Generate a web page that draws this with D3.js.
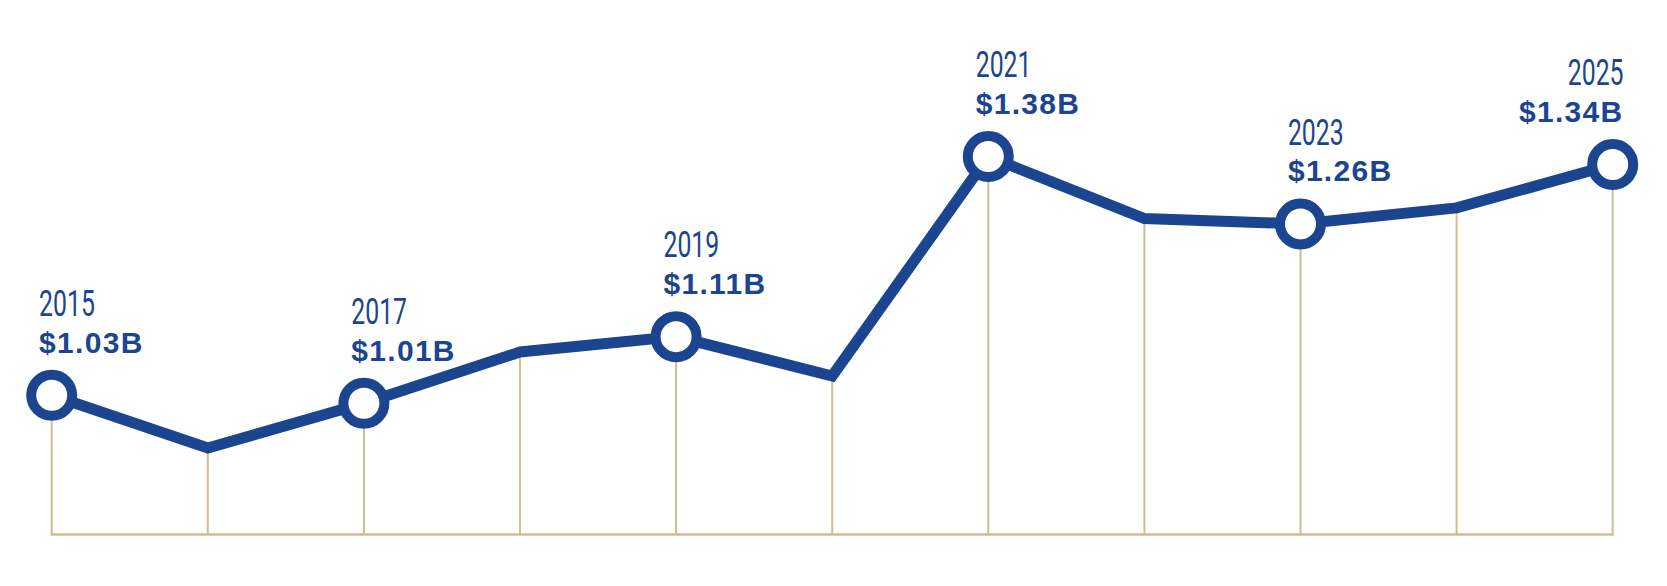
<!DOCTYPE html>
<html>
<head>
<meta charset="utf-8">
<script src="https://cdn.jsdelivr.net/npm/d3@7"></script>
<style>
    html, body { margin: 0; padding: 0; background: #fff; }
    #container { width: 1667px; height: 586px; }
</style>
</head>
<body>
<div id="container"></div>
<script>

// values (billions), labels as printed
const years = [2015, 2016, 2017, 2018, 2019, 2020, 2021, 2022, 2023, 2024, 2025];
const values = [1.022, 0.943, 1.01, 1.087, 1.11, 1.051, 1.38, 1.287, 1.279, 1.303, 1.368];
const labels = ['$1.03B', null, '$1.01B', null, '$1.11B', null, '$1.38B', null, '$1.26B', null, '$1.34B'];

const width = 1667;
const height = 586;

const blue = '#1c4590';
const gold = '#d4bd8c';

const svg = d3.select('#container').append('svg')
    .attr('width', width)
    .attr('height', height);

const x = d3.scalePoint().domain(years).range([51.7, 1612.7]);
const y = d3.scaleLinear().domain([0.8, 1.4]).range([543.4, 143.2]);
const baseY = 534.5;

const points = years.map((yr, i) => ({ year: yr, value: values[i], label: labels[i], last: i === years.length - 1 }));

// gold drop lines
svg.append('g')
    .selectAll('line')
    .data(points)
    .join('line')
    .attr('x1', d => x(d.year))
    .attr('x2', d => x(d.year))
    .attr('y1', baseY)
    .attr('y2', d => y(d.value))
    .attr('stroke', gold)
    .attr('stroke-width', 2);

svg.append('line')
    .attr('x1', x.range()[0] - 1)
    .attr('x2', x.range()[1] + 1)
    .attr('y1', baseY)
    .attr('y2', baseY)
    .attr('stroke', gold)
    .attr('stroke-width', 2.5);

const line = d3.line()
    .x(d => x(d.year))
    .y(d => y(d.value));

svg.append('path')
    .datum(points)
    .attr('d', line)
    .attr('fill', 'none')
    .attr('stroke', blue)
    .attr('stroke-width', 11)
    .attr('stroke-linejoin', 'miter');

const labelled = points.filter(d => d.label);

svg.append('g')
    .selectAll('circle')
    .data(labelled)
    .join('circle')
    .attr('cx', d => x(d.year))
    .attr('cy', d => y(d.value))
    .attr('r', 20.5)
    .attr('fill', '#fff')
    .attr('stroke', blue)
    .attr('stroke-width', 10);

const tags = svg.append('g')
    .selectAll('g')
    .data(labelled)
    .join('g')
    .attr('transform', d => `translate(${x(d.year) + (d.last ? 10.8 : -12.6)},${y(d.value)})`);

// condensed year label
tags.append('text')
    .attr('y', -79.3)
    .attr('transform', 'scale(0.67,1)')
    .attr('text-anchor', d => d.last ? 'end' : 'start')
    .attr('fill', blue)
    .style('font-family', 'Roboto, sans-serif')
    .style('font-weight', 400)
    .style('font-size', '37px')
    .text(d => d.year);

tags.append('text')
    .attr('y', -42.7)
    .attr('text-anchor', d => d.last ? 'end' : 'start')
    .attr('fill', blue)
    .style('font-family', '"Liberation Sans", Arial, sans-serif')
    .style('font-weight', 'bold')
    .style('font-size', '30px')
    .style('letter-spacing', '1.3px')
    .text(d => d.label);

</script>
</body>
</html>
